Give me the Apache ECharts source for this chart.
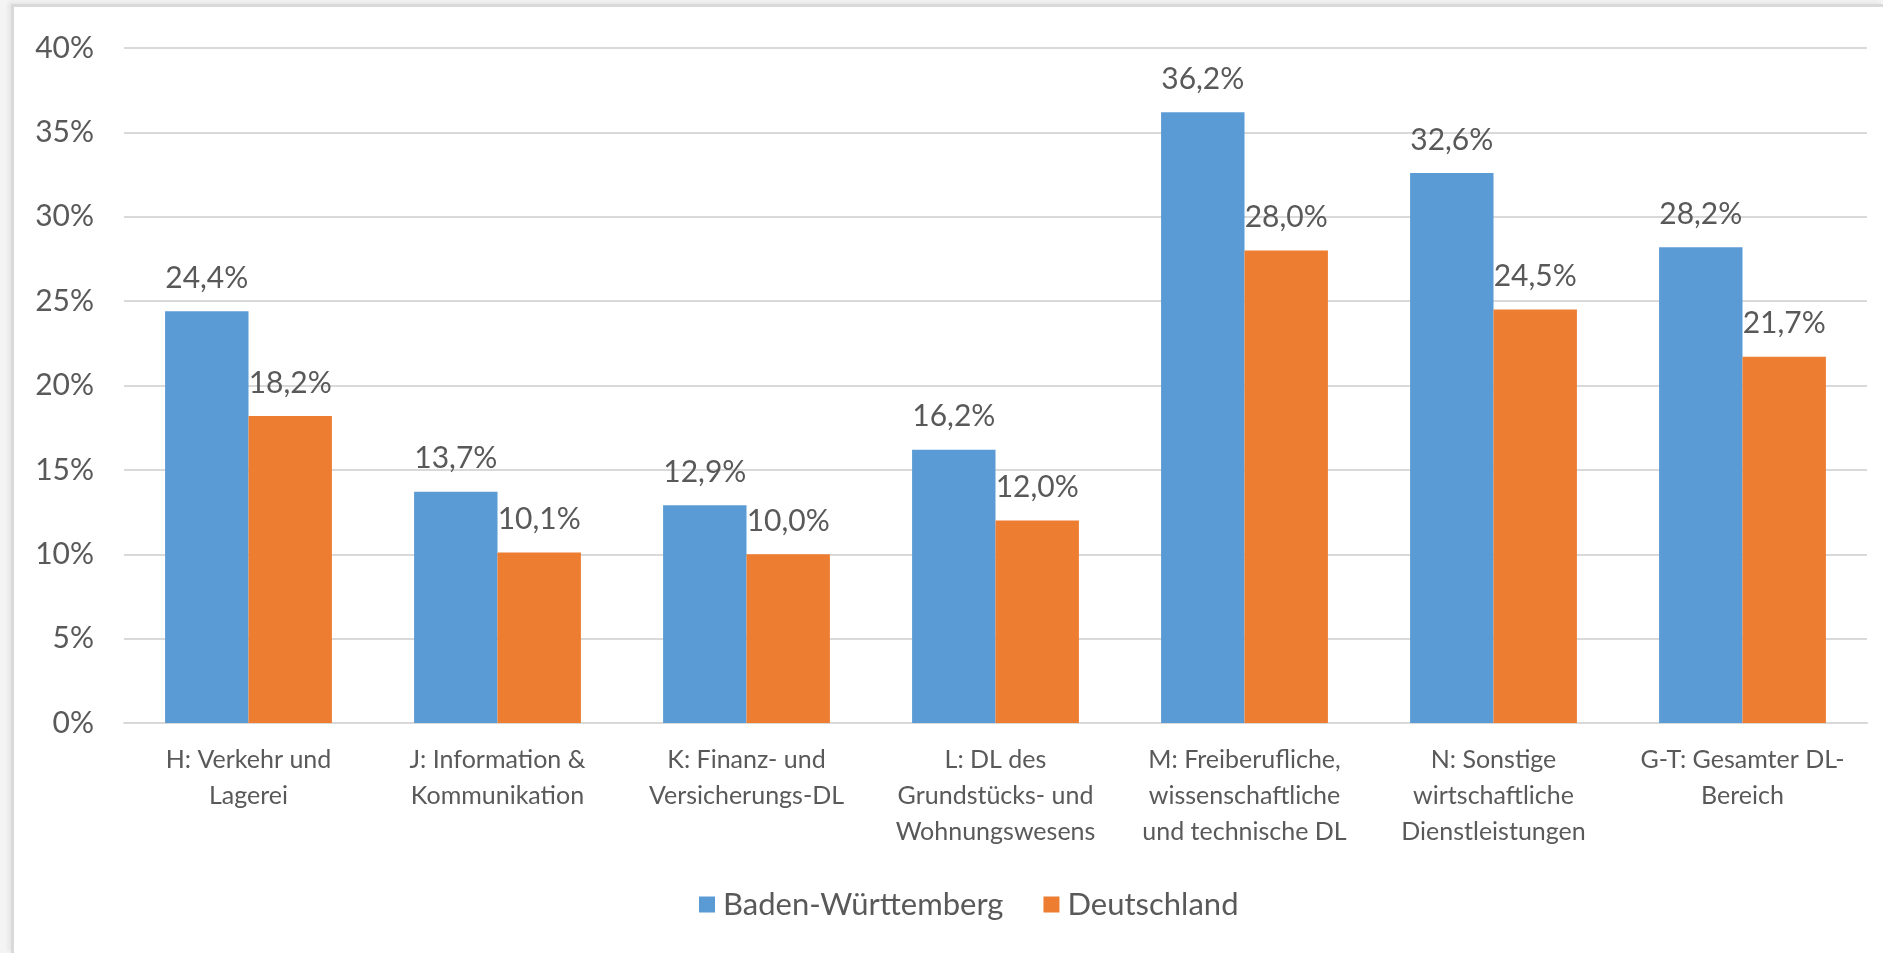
<!DOCTYPE html>
<html>
<head>
<meta charset="utf-8">
<script src="https://cdn.jsdelivr.net/npm/echarts@6/dist/echarts.min.js"></script>
<style>
  html, body { margin: 0; padding: 0; background: #f4f4f4; overflow: hidden; }
  #frame {
    position: absolute; left: 11px; top: 4px; right: 0; bottom: 0;
    background: #ffffff;
    border-left: 3px solid #d9d9d9; border-top: 3px solid #d9d9d9;
    box-shadow: -3px -2px 4px rgba(0,0,0,0.06);
  }
  #chart { position: absolute; left: 0; top: 0; width: 1883px; height: 953px; }
</style>
</head>
<body>
<div id="frame"></div>
<div id="chart"></div>
<script>
const categories = [
  "H: Verkehr und\nLagerei",
  "J: Information &\nKommunikation",
  "K: Finanz- und\nVersicherungs-DL",
  "L: DL des\nGrundstücks- und\nWohnungswesens",
  "M: Freiberufliche,\nwissenschaftliche\nund technische DL",
  "N: Sonstige\nwirtschaftliche\nDienstleistungen",
  "G-T: Gesamter DL-\nBereich",
];
const badenWuerttemberg = [24.4, 13.7, 12.9, 16.2, 36.2, 32.6, 28.2];
const deutschland = [18.2, 10.1, 10.0, 12.0, 28.0, 24.5, 21.7];
const seriesNames = ["Baden-Württemberg", "Deutschland"];
const seriesColors = ["#5b9bd5", "#ed7d31"];

const FONT = "Lato";
const TEXT = "#595959";

function pct(v) {
  return v.toFixed(1).replace(".", ",") + "%";
}

function renderChart() {
  const chart = echarts.init(document.getElementById("chart"));

  const makeSeries = (name, data, color) => ({
    name: name,
    type: "bar",
    data: data,
    itemStyle: { color: color },
    barGap: "0%",
    barCategoryGap: "33%",
    label: {
      show: true,
      position: "top",
      distance: 18,
      color: TEXT,
      fontFamily: FONT,
      fontSize: 30,
      formatter: (p) => pct(p.value),
    },
  });

  chart.setOption({
    animation: false,
    textStyle: { fontFamily: FONT },
    grid: { left: 124, right: 16, top: 48, bottom: 230, containLabel: false },
    legend: {
      data: seriesNames,
      left: 694,
      top: 884,
      itemWidth: 16,
      itemHeight: 16,
      itemGap: 40,
      icon: "rect",
      textStyle: { color: TEXT, fontFamily: FONT, fontSize: 31, padding: [0, 0, 0, 3] },
    },
    xAxis: {
      type: "category",
      data: categories,
      axisLine: { lineStyle: { color: "#d9d9d9", width: 2 } },
      axisTick: { show: false },
      axisLabel: {
        interval: 0,
        margin: 19,
        color: TEXT,
        fontFamily: FONT,
        fontSize: 25,
        lineHeight: 36,
      },
    },
    yAxis: {
      type: "value",
      min: 0,
      max: 40,
      interval: 5,
      axisLine: { show: false },
      axisTick: { show: false },
      splitLine: { lineStyle: { color: "#d9d9d9", width: 2 } },
      axisLabel: {
        margin: 30,
        color: TEXT,
        fontFamily: FONT,
        fontSize: 30,
        formatter: "{value}%",
      },
    },
    series: [
      makeSeries(seriesNames[0], badenWuerttemberg, seriesColors[0]),
      makeSeries(seriesNames[1], deutschland, seriesColors[1]),
    ],
  });
}

document.addEventListener("DOMContentLoaded", function () {
  renderChart();
});
</script>
</body>
</html>
